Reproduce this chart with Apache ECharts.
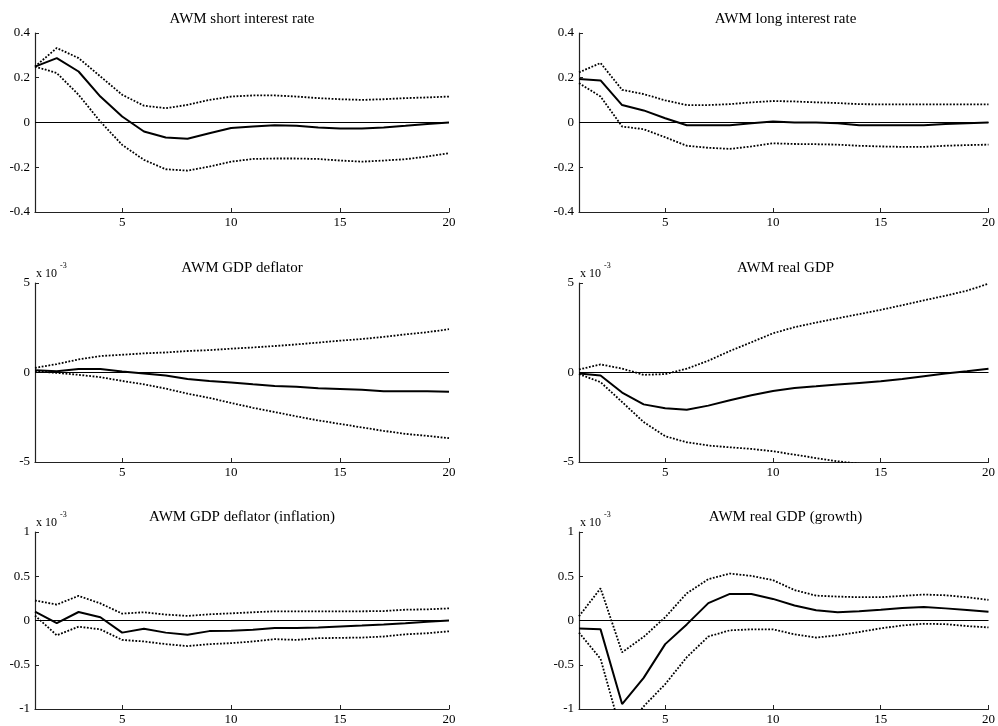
<!DOCTYPE html>
<html>
<head>
<meta charset="utf-8">
<script src="https://cdn.jsdelivr.net/npm/echarts@6/dist/echarts.min.js"></script>
<style>html,body{margin:0;padding:0;background:#fff;}#c{width:998px;height:726px;}</style>
</head>
<body>
<div id="c"></div>
<script>
// Horizon (quarters)
const periods = [1,2,3,4,5,6,7,8,9,10,11,12,13,14,15,16,17,18,19,20];
const xTicks = [5,10,15,20];

// Panel titles
const titles = ["AWM short interest rate","AWM long interest rate","AWM GDP deflator","AWM real GDP","AWM GDP deflator (inflation)","AWM real GDP (growth)"];

// AWM short interest rate
const shortMid   = [0.25,0.288,0.228,0.116,0.027,-0.04,-0.067,-0.073,-0.048,-0.025,-0.018,-0.012,-0.015,-0.022,-0.027,-0.027,-0.022,-0.015,-0.007,0];
const shortUpper = [0.25,0.333,0.288,0.206,0.124,0.075,0.064,0.079,0.101,0.116,0.121,0.121,0.116,0.109,0.104,0.101,0.104,0.109,0.112,0.116];
const shortLower = [0.25,0.221,0.124,0.004,-0.1,-0.167,-0.209,-0.215,-0.197,-0.175,-0.163,-0.161,-0.161,-0.163,-0.17,-0.175,-0.17,-0.164,-0.152,-0.137];

// AWM long interest rate
const longMid   = [0.194,0.188,0.078,0.054,0.019,-0.012,-0.012,-0.012,-0.003,0.004,0,0,-0.003,-0.012,-0.012,-0.012,-0.012,-0.007,-0.003,0];
const longUpper = [0.224,0.266,0.146,0.127,0.099,0.078,0.078,0.082,0.09,0.096,0.094,0.09,0.087,0.082,0.081,0.081,0.081,0.081,0.081,0.081];
const longLower = [0.176,0.116,-0.018,-0.03,-0.066,-0.104,-0.113,-0.118,-0.107,-0.093,-0.096,-0.097,-0.099,-0.104,-0.107,-0.109,-0.109,-0.104,-0.101,-0.099];

// AWM GDP deflator (x 10^-3)
const deflMid   = [0.13,0.07,0.2,0.2,0.06,-0.06,-0.17,-0.36,-0.47,-0.56,-0.66,-0.75,-0.79,-0.88,-0.92,-0.97,-1.05,-1.05,-1.05,-1.07];
const deflUpper = [0.26,0.47,0.73,0.92,0.99,1.07,1.12,1.2,1.25,1.33,1.4,1.48,1.57,1.67,1.78,1.87,1.99,2.13,2.25,2.42];
const deflLower = [0.07,-0.02,-0.13,-0.26,-0.47,-0.66,-0.9,-1.18,-1.42,-1.7,-1.97,-2.21,-2.45,-2.68,-2.87,-3.07,-3.26,-3.43,-3.54,-3.67];

// AWM real GDP (x 10^-3)
const gdpMid   = [-0.06,-0.17,-1.12,-1.78,-2.0,-2.08,-1.85,-1.55,-1.27,-1.03,-0.86,-0.77,-0.67,-0.58,-0.49,-0.36,-0.21,-0.06,0.07,0.21];
const gdpUpper = [0.17,0.45,0.22,-0.13,-0.09,0.21,0.66,1.2,1.69,2.19,2.53,2.79,3.03,3.26,3.5,3.76,4.03,4.29,4.57,4.96];
const gdpLower = [-0.09,-0.54,-1.65,-2.77,-3.56,-3.9,-4.08,-4.18,-4.27,-4.4,-4.59,-4.78,-4.96,-5.1,-5.25,-5.4,-5.55,-5.7,-5.85,-6.0];

// AWM GDP deflator (inflation) (x 10^-3)
const inflMid   = [0.1,-0.03,0.096,0.037,-0.137,-0.093,-0.137,-0.16,-0.12,-0.115,-0.104,-0.085,-0.085,-0.078,-0.067,-0.056,-0.044,-0.03,-0.015,0];
const inflUpper = [0.226,0.18,0.278,0.193,0.078,0.093,0.067,0.052,0.07,0.081,0.093,0.104,0.104,0.104,0.104,0.104,0.107,0.122,0.126,0.137];
const inflLower = [0.056,-0.167,-0.07,-0.1,-0.219,-0.237,-0.267,-0.289,-0.267,-0.256,-0.237,-0.211,-0.219,-0.2,-0.196,-0.193,-0.181,-0.156,-0.144,-0.122];

// AWM real GDP (growth) (x 10^-3)
const growMid   = [-0.089,-0.1,-0.944,-0.648,-0.267,-0.044,0.196,0.3,0.3,0.244,0.17,0.115,0.093,0.104,0.122,0.141,0.152,0.137,0.119,0.1];
const growUpper = [0.048,0.363,-0.359,-0.185,0.037,0.307,0.467,0.53,0.504,0.456,0.344,0.281,0.27,0.263,0.263,0.278,0.293,0.285,0.263,0.233];
const growLower = [-0.137,-0.433,-1.3,-0.97,-0.719,-0.415,-0.181,-0.111,-0.1,-0.1,-0.156,-0.193,-0.167,-0.13,-0.089,-0.056,-0.037,-0.041,-0.063,-0.078];

// y-axis ranges
const yMin = [-0.4,-0.4,-5,-5,-1,-1];
const yMax = [0.4,0.4,5,5,1,1];
const yInt = [0.2,0.2,5,5,0.5,0.5];

const panels = [
  [shortMid, shortUpper, shortLower],
  [longMid, longUpper, longLower],
  [deflMid, deflUpper, deflLower],
  [gdpMid, gdpUpper, gdpLower],
  [inflMid, inflUpper, inflLower],
  [growMid, growUpper, growLower]
];

const FONT = "'Liberation Serif','DejaVu Serif',serif";
const gridPos = [
  {left:35, top:33, width:414, height:179},
  {left:579, top:33, width:413, height:179},
  {left:35, top:283, width:414, height:179},
  {left:579, top:283, width:413, height:179},
  {left:35, top:532, width:414, height:180},
  {left:579, top:532, width:413, height:180}
];
const titleY = [19,19,268,268,517,517];

const pair = (arr) => periods.map((t,i)=>[t, arr[i]]);

const grids = [], xAxes = [], yAxes = [], series = [], graphics = [];
gridPos.forEach((g,i)=>{
  grids.push(Object.assign({containLabel:false}, g));
  xAxes.push({
    type:'value', gridIndex:i, min:1, max:20,
    axisLine:{show:true, onZero:false, lineStyle:{color:'#222', width:1.2}},
    axisTick:{show:true, inside:true, length:4, customValues:xTicks, lineStyle:{color:'#222'}},
    axisLabel:{customValues:xTicks, color:'#000', fontFamily:FONT, fontSize:13, margin:4},
    splitLine:{show:false}
  });
  yAxes.push({
    type:'value', gridIndex:i, min:yMin[i], max:yMax[i], interval:yInt[i],
    axisLine:{show:true, onZero:false, lineStyle:{color:'#222', width:1.2}},
    axisTick:{show:true, inside:true, length:4, lineStyle:{color:'#222'}},
    axisLabel:{color:'#000', fontFamily:FONT, fontSize:13, margin:5},
    splitLine:{show:false}
  });
  const [mid, up, lo] = panels[i];
  series.push({
    type:'line', xAxisIndex:i, yAxisIndex:i, data:pair(mid), symbol:'none',
    lineStyle:{color:'#000', width:2, type:'solid'}, z:5,
    markLine:{silent:true, symbol:['none','none'], label:{show:false}, animation:false,
      lineStyle:{color:'#000', width:1, type:'solid'}, data:[{yAxis:0}]}
  });
  series.push({
    type:'line', xAxisIndex:i, yAxisIndex:i, data:pair(up), symbol:'none',
    lineStyle:{color:'#000', width:1.8, type:[1.8,1.6]}
  });
  series.push({
    type:'line', xAxisIndex:i, yAxisIndex:i, data:pair(lo), symbol:'none',
    lineStyle:{color:'#000', width:1.8, type:[1.8,1.6]}
  });
  graphics.push({
    type:'text', x:g.left + g.width/2, y:titleY[i],
    style:{text:titles[i], font:"15px " + FONT, fill:'#000', textAlign:'center', textVerticalAlign:'middle', align:'center', verticalAlign:'middle'}
  });
  if (i >= 2) {
    const topY = g.top;
    graphics.push({
      type:'text', x:g.left + 1, y:topY - 9,
      style:{text:'x 10', font:"12px " + FONT, fill:'#000', textAlign:'left', textVerticalAlign:'middle', align:'left', verticalAlign:'middle'}
    });
    graphics.push({
      type:'text', x:g.left + 25, y:topY - 17,
      style:{text:'-3', font:"8px " + FONT, fill:'#000', textAlign:'left', textVerticalAlign:'middle', align:'left', verticalAlign:'middle'}
    });
  }
});

const chart = echarts.init(document.getElementById('c'), null, {renderer:'canvas'});
chart.setOption({
  animation:false,
  backgroundColor:'#fff',
  grid:grids, xAxis:xAxes, yAxis:yAxes, series:series, graphic:graphics
});
</script>
</body>
</html>
